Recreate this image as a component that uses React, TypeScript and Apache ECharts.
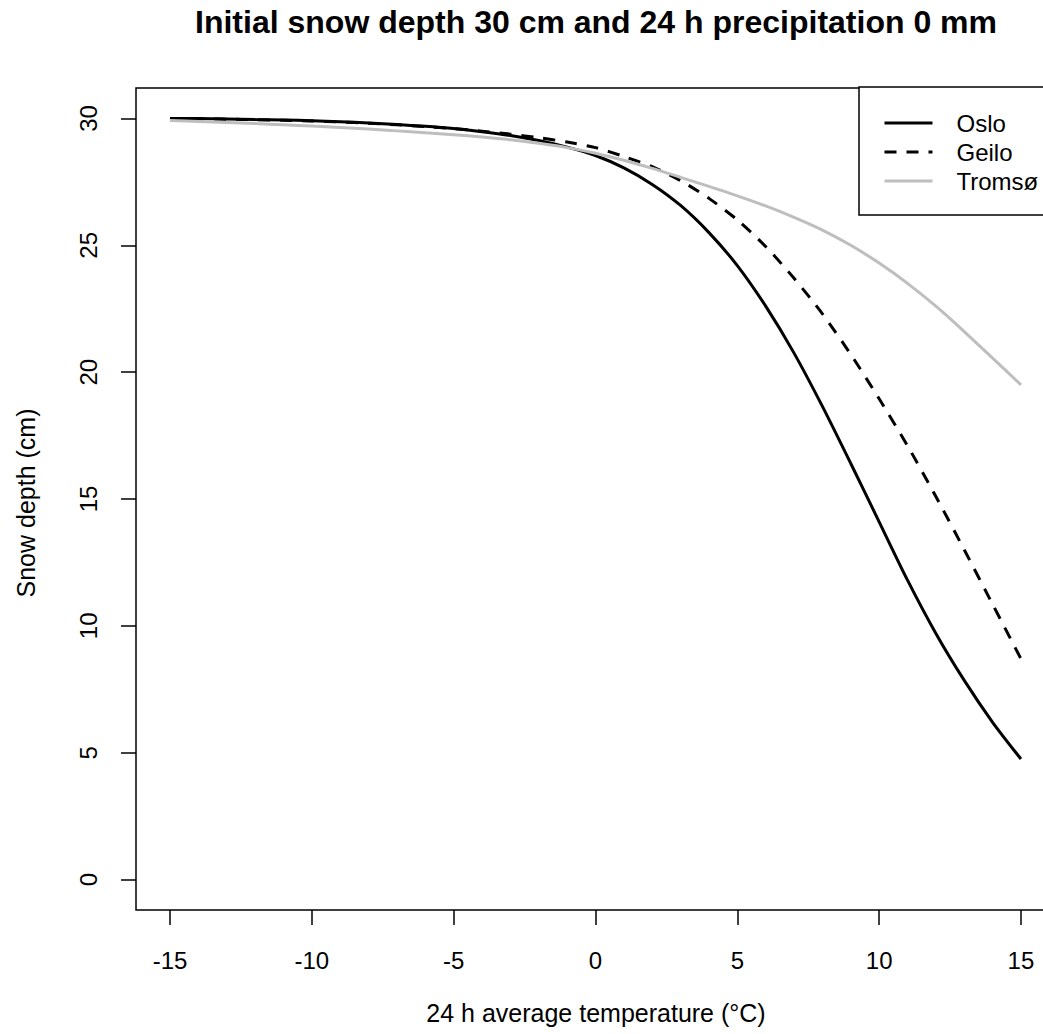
import React, { useEffect, useRef } from "react";
import * as echarts from "echarts";

const titleText = "Initial snow depth 30 cm and 24 h precipitation 0 mm";
const xAxisTitle = "24 h average temperature (°C)";
const yAxisTitle = "Snow depth (cm)";

const seriesNames = ["Oslo", "Geilo", "Tromsø"];

const temperatures = [
  -15, -14, -13, -12, -11, -10, -9, -8, -7, -6, -5, -4, -3, -2, -1, 0,
  1, 2, 3, 4, 5, 6, 7, 8, 9, 10, 11, 12, 13, 14, 15,
];

const osloDepth = [
  30.0, 30.0, 29.98, 29.96, 29.94, 29.91, 29.87, 29.82, 29.76, 29.69, 29.6,
  29.48, 29.33, 29.13, 28.87, 28.54, 28.05, 27.4, 26.57, 25.5, 24.2, 22.6,
  20.75, 18.65, 16.4, 14.1, 11.8, 9.7, 7.85, 6.2, 4.75,
];

const geiloDepth = [
  30.0, 29.99, 29.97, 29.95, 29.93, 29.9, 29.86, 29.81, 29.75, 29.68, 29.6,
  29.5, 29.38, 29.24, 29.07, 28.85, 28.5, 28.1, 27.55, 26.85, 26.0, 24.95,
  23.7, 22.3, 20.7, 18.95, 17.1, 15.1, 13.0, 10.85, 8.7,
];

const tromsoDepth = [
  29.92, 29.88, 29.84, 29.8, 29.75, 29.7, 29.64, 29.58, 29.51, 29.44, 29.36,
  29.27, 29.16, 29.02, 28.85, 28.63, 28.35, 28.03, 27.68, 27.32, 26.95,
  26.55, 26.1, 25.6, 25.0, 24.3, 23.5, 22.6, 21.6, 20.55, 19.5,
];

const xTicks = [-15, -10, -5, 0, 5, 10, 15];
const yTicks = [0, 5, 10, 15, 20, 25, 30];

const FONT = '"Liberation Sans", Arial, Helvetica, sans-serif';

function pairs(ys: number[]) {
  return temperatures.map((t, i) => [t, ys[i]]);
}

export default function App() {
  const ref = useRef<HTMLDivElement>(null);

  useEffect(() => {
    if (!ref.current) return;
    const chart = echarts.init(ref.current, null, { renderer: "svg" });
    const lineBase = {
      type: "line",
      showSymbol: false,
      symbol: "none",
      smooth: 0.25,
      animation: false,
    };
    chart.setOption({
      animation: false,
      backgroundColor: "#ffffff",
      graphic: [
        {
          type: "text",
          x: 596,
          y: 22,
          style: {
            text: titleText,
            fill: "#000",
            fontSize: 32,
            fontWeight: "bold",
            fontFamily: FONT,
            align: "center",
            verticalAlign: "middle",
          },
        },
        {
          type: "text",
          x: 596,
          y: 1013,
          style: {
            text: xAxisTitle,
            fill: "#000",
            fontSize: 25,
            fontFamily: FONT,
            align: "center",
            verticalAlign: "middle",
          },
        },
        {
          type: "text",
          x: 26,
          y: 503,
          rotation: Math.PI / 2,
          style: {
            text: yAxisTitle,
            fill: "#000",
            fontSize: 25,
            fontFamily: FONT,
            align: "center",
            verticalAlign: "middle",
          },
        },
      ],
      grid: {
        left: 136,
        top: 88,
        width: 919,
        height: 822,
        show: true,
        borderColor: "#000",
        borderWidth: 1.5,
        backgroundColor: "transparent",
        containLabel: false,
      },
      legend: {
        orient: "vertical",
        left: 859,
        top: 87,
        data: seriesNames,
        itemWidth: 48,
        itemHeight: 2,
        itemGap: 5,
        padding: [24, 60, 22, 24],
        borderColor: "#000",
        borderWidth: 1.5,
        backgroundColor: "#fff",
        itemStyle: { opacity: 0 },
        lineStyle: { width: 3 },
        textStyle: {
          color: "#000",
          fontSize: 24,
          fontFamily: FONT,
          lineHeight: 24,
          padding: [0, 0, 0, 19],
        },
      },
      xAxis: {
        type: "value",
        min: -16.2,
        max: 16.2,
        axisLine: { show: false, onZero: false },
        splitLine: { show: false },
        axisTick: {
          show: true,
          inside: false,
          length: 15,
          customValues: xTicks,
          lineStyle: { color: "#000", width: 1.5 },
        },
        axisLabel: {
          customValues: xTicks,
          color: "#000",
          fontSize: 24,
          fontFamily: FONT,
          margin: 38,
        },
      },
      yAxis: {
        type: "value",
        min: -1.2,
        max: 31.2,
        axisLine: { show: false, onZero: false },
        splitLine: { show: false },
        axisTick: {
          show: true,
          inside: false,
          length: 15,
          customValues: yTicks,
          lineStyle: { color: "#000", width: 1.5 },
        },
        axisLabel: {
          customValues: yTicks,
          color: "#000",
          fontSize: 24,
          fontFamily: FONT,
          rotate: 90,
          margin: 36,
        },
      },
      series: [
        {
          ...lineBase,
          name: seriesNames[0],
          data: pairs(osloDepth),
          lineStyle: { color: "#000", width: 3, type: "solid" },
          itemStyle: { color: "#000" },
        },
        {
          ...lineBase,
          name: seriesNames[1],
          data: pairs(geiloDepth),
          lineStyle: { color: "#000", width: 3, type: [12, 10] },
          itemStyle: { color: "#000" },
        },
        {
          ...lineBase,
          name: seriesNames[2],
          data: pairs(tromsoDepth),
          lineStyle: { color: "#bebebe", width: 3, type: "solid" },
          itemStyle: { color: "#bebebe" },
        },
      ],
    });
    return () => {
      chart.dispose();
    };
  }, []);

  return (
    <div
      style={{
        position: "fixed",
        left: 0,
        top: 0,
        width: 1043,
        height: 1034,
        overflow: "hidden",
        background: "#fff",
      }}
    >
      <div ref={ref} style={{ width: 1070, height: 1034 }} />
    </div>
  );
}
